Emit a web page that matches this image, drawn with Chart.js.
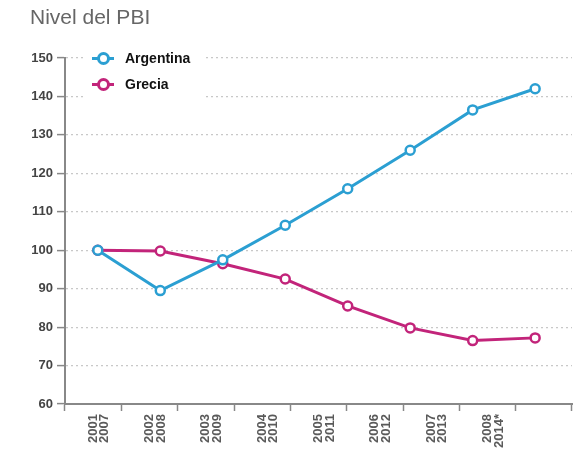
<!DOCTYPE html>
<html>
<head>
<meta charset="utf-8">
<script src="https://cdn.jsdelivr.net/npm/chart.js@4.4.1/dist/chart.umd.min.js"></script>
<style>
  html, body { margin:0; padding:0; background:#fff; }
  #wrap { position:relative; width:579px; height:457px; }
  #title { position:absolute; left:30px; top:5px; font:21px "Liberation Sans", Arial, sans-serif; color:#666; }
  #legend { position:absolute; left:86px; top:47px; background:#fff; padding:0 14px 0 4px; font:bold 14px "Liberation Sans", Arial, sans-serif; color:#111; }
  .item { position:relative; height:26px; line-height:22px; padding-left:35px; }
  .item .ln { position:absolute; left:2px; top:10px; width:22px; height:3px; }
  .item .dot { position:absolute; left:7px; top:5px; width:7px; height:7px; border-radius:50%; background:#fff; border:3px solid; }
</style>
</head>
<body>
<div id="wrap">
  <canvas id="c" width="579" height="457"></canvas>
  <div id="title">Nivel del PBI</div>
  <div id="legend"></div>
</div>
<script>
// data
const periods = [['2001','2007'],['2002','2008'],['2003','2009'],['2004','2010'],['2005','2011'],['2006','2012'],['2007','2013'],['2008','2014*']];
const argentina = [100, 89.5, 97.5, 106.5, 116, 126, 136.5, 142];
const grecia = [100, 99.8, 96.5, 92.5, 85.5, 79.8, 76.5, 77.2];
const seriesNames = ['Argentina', 'Grecia'];
const colors = ['#2b9fd2', '#c2247a'];

// legend (html so it can sit inside the plot)
const leg = document.getElementById('legend');
seriesNames.forEach((n, i) => {
  leg.innerHTML += '<div class="item"><span class="ln" style="background:' + colors[i] + '"></span>' +
    '<span class="dot" style="border-color:' + colors[i] + '"></span>' + n + '</div>';
});

const toPts = arr => arr.map((v, i) => ({ x: i, y: v }));
const labels = periods.concat(['']);

const ds = (name, arr, col) => ({
  label: name, data: toPts(arr), xAxisID: 'xd',
  borderColor: col, borderWidth: 3, backgroundColor: '#fff',
  pointRadius: 4.5, pointBorderWidth: 2.5, pointBackgroundColor: '#fff', pointBorderColor: col,
  tension: 0
});

new Chart(document.getElementById('c').getContext('2d'), {
  type: 'line',
  data: { labels, datasets: [ds(seriesNames[0], argentina, colors[0]), ds(seriesNames[1], grecia, colors[1])] },
  options: {
    responsive: false, animation: false,
    layout: { padding: { top: 58, right: 4, left: 0, bottom: 0 } },
    plugins: { legend: { display: false }, tooltip: { enabled: false } },
    scales: {
      x: {
        type: 'category', offset: true,
        grid: { offset: true, drawOnChartArea: false, drawTicks: true, tickLength: 7, tickColor: '#888', tickWidth: 1.5 },
        border: { color: '#888', width: 2 },
        ticks: { minRotation: 90, maxRotation: 90, padding: 3, color: '#5a5a5a',
                 font: { family: 'Liberation Sans', size: 13, weight: 'bold', lineHeight: 0.9 } },
        afterFit: s => { s.height = 53; }
      },
      xd: { type: 'linear', display: false, min: -0.525, max: 7.59 },
      y: {
        min: 60, max: 150,
        ticks: { stepSize: 10, color: '#444', padding: 4, font: { family: 'Liberation Sans', size: 13, weight: 'bold' } },
        grid: { color: ctx => ctx.tick && ctx.tick.value === 60 ? 'rgba(0,0,0,0)' : '#c8c8c8', lineWidth: 1.2,
                drawTicks: true, tickLength: 8, tickColor: '#888', tickWidth: 1.5 },
        border: { color: '#888', width: 2, dash: [2, 3] },
        afterFit: s => { s.width = 65; }
      }
    }
  }
});
</script>
</body>
</html>
